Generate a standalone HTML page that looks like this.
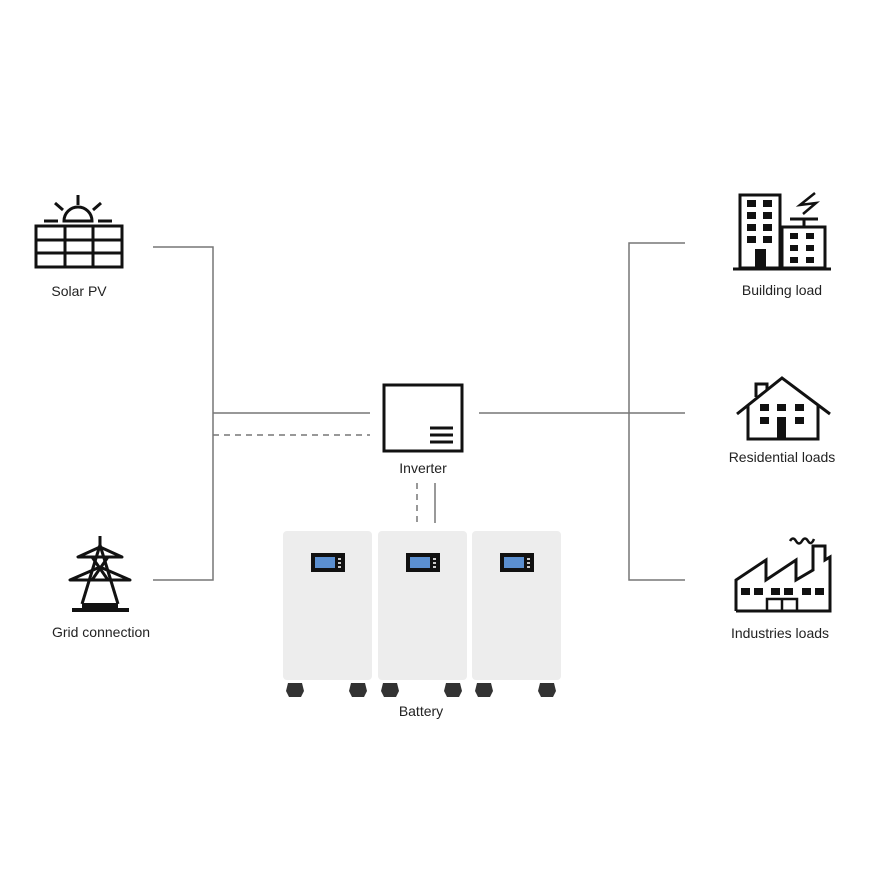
<!DOCTYPE html>
<html><head><style>
html,body{margin:0;padding:0;background:#fff;}
svg text{font-family:"Liberation Sans",sans-serif;font-size:14px;fill:#222;text-anchor:middle;}
</style></head><body>
<svg width="880" height="880" viewBox="0 0 880 880" xmlns="http://www.w3.org/2000/svg">
<defs>
<g id="bat">
<rect x="0" y="0" width="89" height="149" rx="4" fill="#ededed"/>
<rect x="28" y="22" width="34" height="19" fill="#111"/>
<rect x="32" y="26" width="20" height="11" fill="#5b8fd0"/>
<rect x="55" y="27" width="3" height="2" fill="#ccc"/><rect x="55" y="31" width="3" height="2" fill="#ccc"/><rect x="55" y="35" width="3" height="2" fill="#ccc"/>
<path d="M5 152 h14 l2 8 l-3 6 h-12 l-3 -6z" fill="#333"/>
<path d="M68 152 h14 l2 8 l-3 6 h-12 l-3 -6z" fill="#333"/>
</g>
</defs>
<g stroke="#777" stroke-width="1.5" fill="none">
<polyline points="153,247 213,247 213,580 153,580"/>
<line x1="213" y1="413" x2="370" y2="413"/>
<line x1="213" y1="435" x2="370" y2="435" stroke-dasharray="6,5"/>
<line x1="479" y1="413" x2="685" y2="413"/>
<polyline points="685,243 629,243 629,580 685,580"/>
<line x1="417" y1="483" x2="417" y2="525" stroke-dasharray="6,5"/>
<line x1="435" y1="483" x2="435" y2="523"/>
</g>
<!-- inverter -->
<rect x="384" y="385" width="78" height="66" fill="none" stroke="#111" stroke-width="3"/>
<g stroke="#111" stroke-width="3"><line x1="430" y1="428" x2="453" y2="428"/><line x1="430" y1="435" x2="453" y2="435"/><line x1="430" y1="442" x2="453" y2="442"/></g>
<use href="#bat" x="283" y="531"/>
<use href="#bat" x="378" y="531"/>
<use href="#bat" x="472" y="531"/>
<!-- solar -->
<g stroke="#111" stroke-width="3" fill="none">
<rect x="36" y="226" width="86" height="41"/>
<line x1="36" y1="240" x2="122" y2="240"/><line x1="36" y1="253" x2="122" y2="253"/>
<line x1="65" y1="226" x2="65" y2="267"/><line x1="93" y1="226" x2="93" y2="267"/>
<path d="M64 221 A14 14 0 0 1 92 221 Z"/>
<line x1="44" y1="221" x2="58" y2="221"/><line x1="98" y1="221" x2="112" y2="221"/>
<line x1="78" y1="195" x2="78" y2="205"/><line x1="55" y1="203" x2="63" y2="210"/><line x1="101" y1="203" x2="93" y2="210"/>
</g>
<!-- tower -->
<g stroke="#111" stroke-width="3" fill="none" stroke-linejoin="round">
<line x1="100" y1="536" x2="100" y2="545"/>
<line x1="100" y1="545" x2="82" y2="604"/><line x1="100" y1="545" x2="118" y2="604"/>
<path d="M78 557 H122 L100 547 Z"/>
<path d="M70 580 H130 L100 567 Z"/>
<line x1="92" y1="557" x2="108" y2="580"/><line x1="108" y1="557" x2="92" y2="580"/>
</g>
<rect x="82" y="603" width="36" height="5" fill="#111"/>
<rect x="72" y="608" width="57" height="4" fill="#111"/>
<!-- building -->
<g stroke="#111" stroke-width="3" fill="none">
<rect x="740" y="195" width="40" height="73"/>
<rect x="782" y="227" width="43" height="41"/>
<line x1="733" y1="269" x2="831" y2="269"/>
<line x1="790" y1="219" x2="818" y2="219"/><line x1="804" y1="219" x2="804" y2="227"/>
<polyline points="815,193 800,205 816,203 803,214" stroke-width="2.5"/>
</g>
<g fill="#111">
<rect x="747" y="200" width="9" height="7"/><rect x="763" y="200" width="9" height="7"/>
<rect x="747" y="212" width="9" height="7"/><rect x="763" y="212" width="9" height="7"/>
<rect x="747" y="224" width="9" height="7"/><rect x="763" y="224" width="9" height="7"/>
<rect x="747" y="236" width="9" height="7"/><rect x="763" y="236" width="9" height="7"/>
<rect x="755" y="249" width="11" height="19"/>
<rect x="790" y="233" width="8" height="6"/><rect x="806" y="233" width="8" height="6"/>
<rect x="790" y="245" width="8" height="6"/><rect x="806" y="245" width="8" height="6"/>
<rect x="790" y="257" width="8" height="6"/><rect x="806" y="257" width="8" height="6"/>
</g>
<!-- house -->
<g stroke="#111" stroke-width="3" fill="none">
<polyline points="737,414 782,378 830,414"/>
<polyline points="748,405 748,439 818,439 818,405"/>
<polyline points="756,397 756,384 767,384 767,390"/>
</g>
<g fill="#111">
<rect x="760" y="404" width="9" height="7"/><rect x="777" y="404" width="9" height="7"/><rect x="795" y="404" width="9" height="7"/>
<rect x="760" y="417" width="9" height="7"/><rect x="795" y="417" width="9" height="7"/>
<rect x="777" y="417" width="9" height="22"/>
</g>
<!-- factory -->
<g stroke="#111" stroke-width="3" fill="none" stroke-linejoin="miter">
<polyline points="736,611 736,580 766,560 766,580 796,560 796,580 813,570 813,546 825,546 825,560 830,557 830,611 736,611"/>
<rect x="767" y="599" width="30" height="12" stroke-width="2.5"/>
<line x1="782" y1="599" x2="782" y2="611" stroke-width="2.5"/>
<path d="M790 541 q3 -5 6 0 t6 0 t6 0 t6 -2" stroke-width="2.5"/>
</g>
<g fill="#111">
<rect x="741" y="588" width="9" height="7"/><rect x="754" y="588" width="9" height="7"/>
<rect x="771" y="588" width="9" height="7"/><rect x="784" y="588" width="9" height="7"/>
<rect x="802" y="588" width="9" height="7"/><rect x="815" y="588" width="9" height="7"/>
</g>
<text x="79" y="296">Solar PV</text>
<text x="101" y="637">Grid connection</text>
<text x="423" y="473">Inverter</text>
<text x="421" y="716">Battery</text>
<text x="782" y="295">Building load</text>
<text x="782" y="462">Residential loads</text>
<text x="780" y="638">Industries loads</text>
</svg>
</body></html>
